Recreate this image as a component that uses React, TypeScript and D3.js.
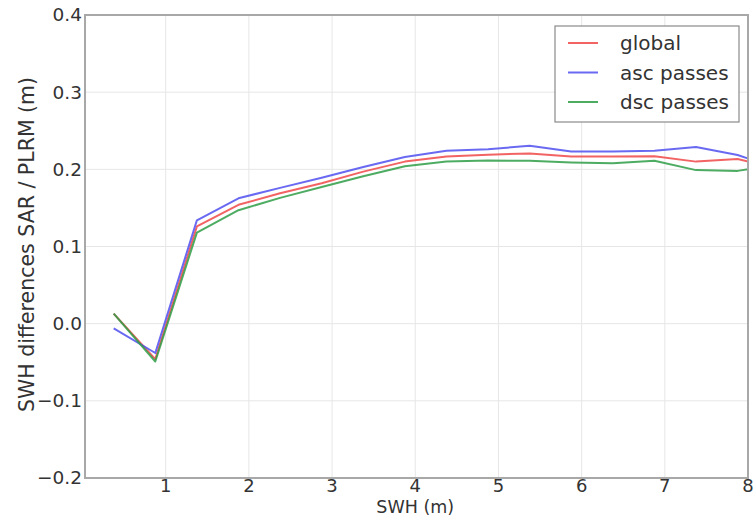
import * as d3 from 'd3'
import React from 'react'

// bin centres of SWH (m)
const swh = [0.375, 0.875, 1.375, 1.875, 2.375, 2.875, 3.375, 3.875, 4.375, 4.875, 5.375, 5.875, 6.375, 6.875, 7.375, 7.875, 8.375]

const globalDiff = [0.013, -0.046, 0.126, 0.154, 0.169, 0.182, 0.197, 0.210, 0.2165, 0.219, 0.2205, 0.2165, 0.2165, 0.217, 0.210, 0.2135, 0.200]
const ascDiff = [-0.006, -0.038, 0.134, 0.1625, 0.176, 0.189, 0.203, 0.216, 0.224, 0.226, 0.2305, 0.223, 0.223, 0.224, 0.229, 0.2185, 0.201]
const dscDiff = [0.013, -0.049, 0.118, 0.147, 0.163, 0.177, 0.191, 0.204, 0.210, 0.2115, 0.211, 0.209, 0.208, 0.211, 0.199, 0.198, 0.206]

const xTicks = [1, 2, 3, 4, 5, 6, 7, 8]
const yTicks = [-0.2, -0.1, 0.0, 0.1, 0.2, 0.3, 0.4]

const seriesNames = ['global', 'asc passes', 'dsc passes']
const seriesColors = ['#f04848', '#4f4ff0', '#2e9e46']

const W = 754
const H = 517
const margin = { left: 85, right: 6, top: 15, bottom: 39 }

export default function App() {
  const x = d3.scaleLinear().domain([0.03, 8]).range([margin.left, W - margin.right])
  const y = d3.scaleLinear().domain([-0.2, 0.4]).range([H - margin.bottom, margin.top])

  const series = [globalDiff, ascDiff, dscDiff]
  const line = d3.line<[number, number]>()
    .x(d => x(d[0]))
    .y(d => y(d[1]))

  const font = 'DejaVu Sans, sans-serif'
  const fmt = (v: number) => d3.format('.1f')(v).replace('-', '\u2212')

  const lx = 555, ly = 26, lw = 184, lh = 96

  return (
    <svg width={W} height={H} style={{ position: 'absolute', left: 0, top: 0, background: '#fff' }}>
      <defs>
        <clipPath id="plot">
          <rect x={margin.left} y={margin.top} width={W - margin.left - margin.right} height={H - margin.top - margin.bottom} />
        </clipPath>
      </defs>

      {/* grid */}
      {xTicks.map(t => (
        <line key={'gx' + t} x1={x(t)} x2={x(t)} y1={margin.top} y2={H - margin.bottom} stroke="#e6e6e6" strokeWidth={1} />
      ))}
      {yTicks.map(t => (
        <line key={'gy' + t} x1={margin.left} x2={W - margin.right} y1={y(t)} y2={y(t)} stroke="#e6e6e6" strokeWidth={1} />
      ))}

      {/* lines */}
      <g clipPath="url(#plot)">
        {series.map((s, i) => (
          <path key={i} d={line(swh.map((v, j) => [v, s[j]] as [number, number])) || ''}
            fill="none" stroke={seriesColors[i]} strokeWidth={2} strokeOpacity={0.85} strokeLinejoin="round" />
        ))}
      </g>

      {/* frame */}
      <rect x={margin.left} y={margin.top} width={W - margin.left - margin.right} height={H - margin.top - margin.bottom}
        fill="none" stroke="#a8a8a8" strokeWidth={2} />

      {/* tick labels */}
      {yTicks.map(t => (
        <text key={'ty' + t} x={margin.left - 3} y={y(t)} dy="0.35em" textAnchor="end"
          fontFamily={font} fontSize={18.5} fill="#333">{fmt(t)}</text>
      ))}
      {xTicks.map(t => (
        <text key={'tx' + t} x={x(t)} y={491.5} textAnchor="middle"
          fontFamily={font} fontSize={18} fill="#333">{t}</text>
      ))}

      {/* axis titles */}
      <text x={x(4)} y={512.5} textAnchor="middle" fontFamily={font} fontSize={17.5} fill="#333">SWH (m)</text>
      <text transform={`translate(34,${(margin.top + H - margin.bottom) / 2 - 2}) rotate(-90)`} textAnchor="middle"
        fontFamily={font} fontSize={20.5} fill="#333">SWH differences SAR / PLRM (m)</text>

      {/* legend */}
      <rect x={lx} y={ly} width={lw} height={lh} fill="#fff" stroke="#8a8a8a" strokeWidth={1.2} />
      {seriesNames.map((n, i) => (
        <g key={n}>
          <line x1={lx + 13} x2={lx + 43} y1={ly + 17 + i * 29.5} y2={ly + 17 + i * 29.5}
            stroke={seriesColors[i]} strokeWidth={2} strokeOpacity={0.85} />
          <text x={lx + 65} y={ly + 17 + i * 29.5} dy="0.35em" fontFamily={font} fontSize={20} fill="#333">{n}</text>
        </g>
      ))}
    </svg>
  )
}
